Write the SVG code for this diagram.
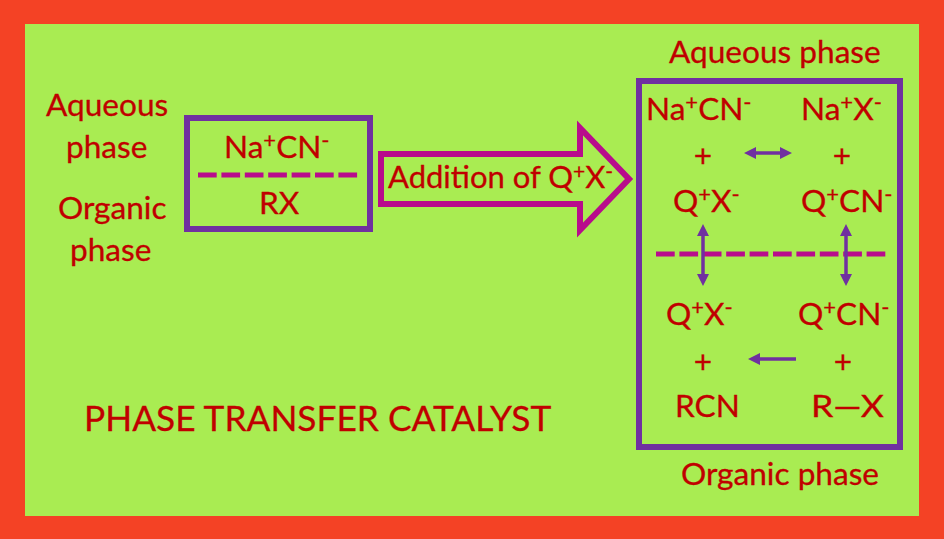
<svg xmlns="http://www.w3.org/2000/svg" width="944" height="539" viewBox="0 0 944 539">
<style>
text{font-family:"Lato","Open Sans",sans-serif;fill:#C00000;font-size:31.6px;stroke:#C00000;stroke-width:.3}
.s{font-size:22px}
.box{fill:none;stroke:#7030A0;stroke-width:6}
.dash{fill:none;stroke:#B80C8C;stroke-width:5;stroke-dasharray:18.7 4.7;stroke-linecap:butt}
.conn{stroke:#7030A0;stroke-width:3.5;fill:none}
.head{fill:#7030A0}
</style>
<rect width="944" height="539" fill="#F44225"/>
<rect x="25" y="24" width="894" height="492" fill="#A9EC52"/>
<g id="label-aqueous-left"><text x="46" y="116">Aqueous</text><text x="66" y="158">phase</text></g>
<g id="label-organic-left"><text x="58" y="219">Organic</text><text x="70" y="261">phase</text></g>
<g id="title"><text x="84" y="431" style="font-size:35.3px">PHASE TRANSFER CATALYST</text></g>
<g id="label-aqueous-top"><text x="669" y="63">Aqueous phase</text></g>
<g id="label-organic-bottom"><text x="681" y="485">Organic phase</text></g>
<g id="start-box">
<rect class="box" x="187" y="118" width="183" height="111"/>
<path class="dash" d="M198 175H358"/>
<text x="224" y="158">Na<tspan class="s" dy="-10">+</tspan><tspan dy="10">CN</tspan><tspan class="s" dy="-10">-</tspan></text>
<text x="259" y="214">RX</text>
</g>
<g id="addition-arrow">
<path d="M381 154H580V128L629 179L580 230V204H381Z" fill="none" stroke="#B80C8C" stroke-width="6"/>
<text x="388" y="188" style="font-size:31px">Addition of Q<tspan style="font-size:21px" dy="-9">+</tspan><tspan dy="9">X</tspan><tspan style="font-size:21px" dy="-9">-</tspan></text>
</g>
<g id="result-box">
<rect class="box" x="639" y="81" width="261" height="366"/>
<path class="dash" d="M656 254H886"/>
<text x="646" y="120">Na<tspan class="s" dy="-10">+</tspan><tspan dy="10">CN</tspan><tspan class="s" dy="-10">-</tspan></text>
<text x="801" y="120">Na<tspan class="s" dy="-10">+</tspan><tspan dy="10">X</tspan><tspan class="s" dy="-10">-</tspan></text>
<text x="703" y="167" style="text-anchor:middle">+</text>
<text x="842" y="167" style="text-anchor:middle">+</text>
<text x="673" y="212">Q<tspan class="s" dy="-10">+</tspan><tspan dy="10">X</tspan><tspan class="s" dy="-10">-</tspan></text>
<text x="801" y="212">Q<tspan class="s" dy="-10">+</tspan><tspan dy="10">CN</tspan><tspan class="s" dy="-10">-</tspan></text>
<text x="666" y="325">Q<tspan class="s" dy="-10">+</tspan><tspan dy="10">X</tspan><tspan class="s" dy="-10">-</tspan></text>
<text x="798" y="325">Q<tspan class="s" dy="-10">+</tspan><tspan dy="10">CN</tspan><tspan class="s" dy="-10">-</tspan></text>
<text x="703" y="373" style="text-anchor:middle">+</text>
<text x="843" y="373" style="text-anchor:middle">+</text>
<text x="675" y="417">RCN</text>
<text x="811" y="417" textLength="73" lengthAdjust="spacingAndGlyphs">R—X</text>
</g>
<g id="connectors">
<path class="conn" d="M754 153H782"/><path class="head" d="M744 153L756 147V159ZM792 153L780 147V159Z"/>
<path class="conn" d="M703 234V276"/><path class="head" d="M703 224L697 236H709ZM703 286L697 274H709Z"/>
<path class="conn" d="M846 234V276"/><path class="head" d="M846 224L840 236H852ZM846 286L840 274H852Z"/>
<path class="conn" d="M796 359H758"/><path class="head" d="M748 359L760 353V365Z"/>
</g>
</svg>
